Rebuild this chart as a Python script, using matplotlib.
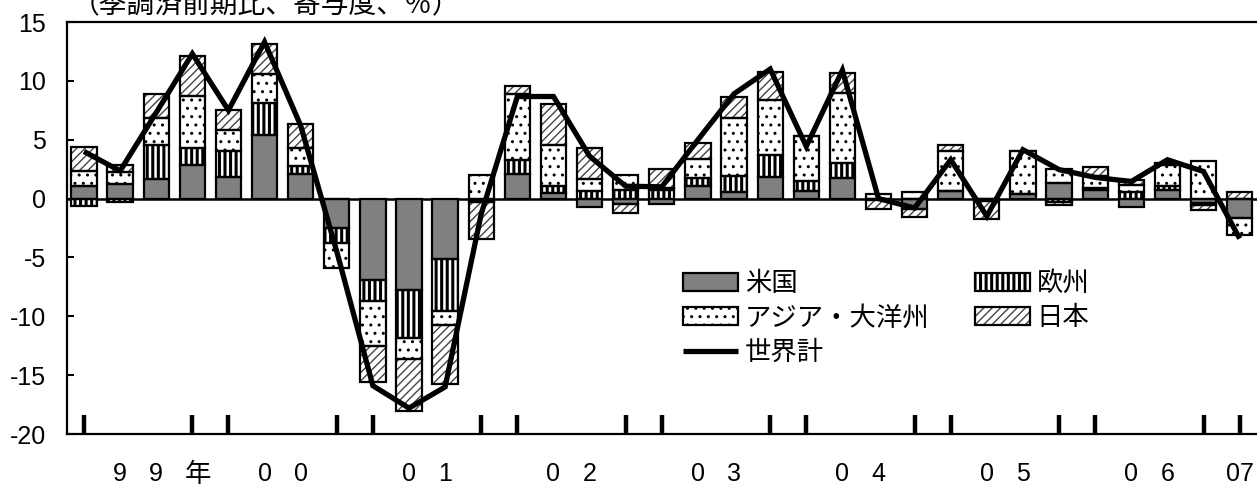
import numpy as np
import matplotlib
matplotlib.use("Agg")
import matplotlib.pyplot as plt
import matplotlib.transforms as mtransforms
from matplotlib.patches import Patch

plt.rcParams['axes.unicode_minus'] = False

# ---- data (quarters 1999Q1 .. 2007Q1) ----
quarters = ["99Q1", "99Q2", "99Q3", "99Q4", "00Q1", "00Q2", "00Q3", "00Q4",
            "01Q1", "01Q2", "01Q3", "01Q4", "02Q1", "02Q2", "02Q3", "02Q4",
            "03Q1", "03Q2", "03Q3", "03Q4", "04Q1", "04Q2", "04Q3", "04Q4",
            "05Q1", "05Q2", "05Q3", "05Q4", "06Q1", "06Q2", "06Q3", "06Q4", "07Q1"]
us = [1.05, 1.24, 1.7, 2.82, 1.8, 5.42, 2.1, -2.49,
      -6.92, -7.77, -5.11, -0.1, 2.09, 0.48, -0.71, -0.45,
      -0.45, 1.1, 0.54, 1.81, 0.68, 1.75, -0.15, -0.85,
      0.62, -0.2, 0.4, 1.3, 0.76, -0.7, 0.76, -0.35, -1.64]
europe = [-0.65, -0.28, 2.82, 1.47, 2.2, 2.7, 0.7, -1.32,
          -1.78, -4.04, -4.44, -0.15, 1.21, 0.62, 0.68, 0.76,
          0.76, 0.65, 1.35, 1.92, 0.79, 1.27, 0.0, 0.0,
          0.0, 0.0, 0.0, -0.3, 0.15, 0.56, 0.3, -0.2, 0.0]
asia = [1.3, 1.0, 2.34, 4.46, 1.84, 2.5, 1.47, -2.07,
        -3.8, -1.78, -1.21, 2.0, 5.6, 3.48, 1.01, 1.27,
        0.15, 1.61, 4.95, 4.66, 3.81, 5.98, 0.35, 0.55,
        3.4, 0.0, 3.6, 1.25, 1.0, 0.56, 1.8, 3.2, -1.47]
japan = [2.07, 0.65, 2.0, 3.36, 1.7, 2.5, 2.07, 0.0,
         -3.05, -4.43, -5.0, -3.22, 0.68, 3.47, 2.6, -0.75,
         1.6, 1.36, 1.75, 2.4, 0.0, 1.7, -0.7, -0.75,
         0.5, -1.5, 0.0, -0.25, 0.75, 0.45, 0.2, -0.45, 0.6]
world = [4.0, 2.35, 7.3, 12.3, 7.5, 13.3, 6.2, -4.5,
         -15.9, -17.8, -16.0, -1.3, 8.67, 8.67, 3.6, 1.05,
         1.0, 5.0, 8.9, 11.0, 4.43, 10.9, 0.0, -0.8,
         3.3, -1.5, 4.15, 2.46, 1.8, 1.45, 3.3, 2.3, -3.4]
years = ["99", "00", "01", "02", "03", "04", "05", "06"]
last_year = "07"
series_names = ["米国", "欧州", "アジア・大洋州", "日本"]
world_name = "世界計"
title_text = "（季調済前期比、寄与度、％）"
yticks = [15, 10, 5, 0, -5, -10, -15, -20]

# ---- styles ----
styles = [
    dict(face="#808080", hatch=None, hcolor="black"),
    dict(face="white", hatch="|||", hcolor="black"),
    dict(face="white", hatch="..", hcolor="black"),
    dict(face="white", hatch="////", hcolor="#444444"),
]
hatch_lw = {"|||": 2.2, "..": 1.0, "////": 1.0}

W, H = 1257, 484
fig = plt.figure(figsize=(W / 100, H / 100), dpi=100)
ax = fig.add_axes([67 / W, 50 / H, 1190 / W, 412 / H])

x = np.arange(len(quarters))
data = [np.array(us), np.array(europe), np.array(asia), np.array(japan)]
pos_cum = np.zeros(len(x))
neg_cum = np.zeros(len(x))
bw = 0.7
legend_handles = []
for vals, st in zip(data, styles):
    bottom = np.where(vals >= 0, pos_cum, neg_cum)
    ax.bar(x, vals, bw, bottom=bottom, color=st["face"], hatch=st["hatch"],
           edgecolor=st["hcolor"], linewidth=0, zorder=2)
    ax.bar(x, vals, bw, bottom=bottom, fill=False, edgecolor="black", linewidth=1.6, zorder=3)
    hp = Patch(facecolor=st["face"], hatch=st["hatch"], edgecolor=st["hcolor"], linewidth=0)
    legend_handles.append((hp, Patch(fill=False, edgecolor="black", linewidth=1.6)))
    pos_cum = pos_cum + np.where(vals > 0, vals, 0)
    neg_cum = neg_cum + np.where(vals < 0, vals, 0)

line, = ax.plot(x, world, color="black", linewidth=3.8, zorder=5,
                solid_joinstyle="miter", solid_capstyle="butt")
ax.axhline(0, color="black", linewidth=1.8, zorder=1.5)

ax.set_xlim(-0.47, len(x) - 1 + 0.48)
ax.set_ylim(-20, 15)
ax.set_yticks(yticks)
ax.set_yticklabels([str(v) for v in yticks], fontsize=18, family="Liberation Sans")
ax.tick_params(axis="y", direction="in", length=5, width=1.5, pad=15)

# per-quarter labels: year digits under Q2 and Q3
labels = []
for i in range(len(x)):
    if i == len(x) - 1:
        labels.append(last_year)
    elif i % 4 == 1:
        labels.append(years[i // 4][0])
    elif i % 4 == 2:
        labels.append(years[i // 4][1])
    else:
        labels.append("")
ax.xaxis.remove_overlapping_locs = False
ax.set_xticks(x)
ax.set_xticklabels(labels, fontsize=18, family="Liberation Sans")
ax.tick_params(axis="x", which="major", length=0, pad=20)
edge_pos = [i for i in range(len(x)) if i % 4 in (0, 3)]
ax.set_xticks(edge_pos, minor=True)
ax.tick_params(axis="x", which="minor", direction="in", length=14, width=3.2)

ax.text(3.15, -20, "年", fontsize=19, family="Noto Sans CJK JP", ha="center", va="center",
        transform=ax.transData + mtransforms.ScaledTranslation(0, -41 / 100, fig.dpi_scale_trans))

for s in ["left", "top", "bottom"]:
    ax.spines[s].set_linewidth(1.6)
ax.spines["right"].set_visible(False)

fig.text(72 / W, 1 - 5 / H, title_text, fontsize=20, family="Noto Sans CJK JP",
         ha="left", va="center")

handles = [legend_handles[0], legend_handles[2], line, legend_handles[1], legend_handles[3]]
names = [series_names[0], series_names[2], world_name, series_names[1], series_names[3]]
leg = fig.legend(handles, names, loc="upper left",
                 bbox_to_anchor=(683 / W, 1 - 270 / H), bbox_transform=fig.transFigure,
                 ncol=2, frameon=False, borderpad=0, borderaxespad=0,
                 handlelength=2.1, handleheight=0.65, handletextpad=0.25,
                 columnspacing=1.7, labelspacing=0.28,
                 prop={"family": "Noto Sans CJK JP", "size": 19})


# per-pattern hatch line widths, applied at draw time
def wrap_draw(artist, lw):
    orig = artist.draw

    def draw(renderer, *args, **kwargs):
        with plt.rc_context({"hatch.linewidth": lw}):
            if hasattr(artist, "set_hatch_linewidth"):
                artist.set_hatch_linewidth(lw)
            return orig(renderer, *args, **kwargs)
    artist.draw = draw


for p in fig.findobj(Patch):
    h = p.get_hatch()
    if h in hatch_lw:
        wrap_draw(p, hatch_lw[h])

fig.savefig("out.png", dpi=100)
